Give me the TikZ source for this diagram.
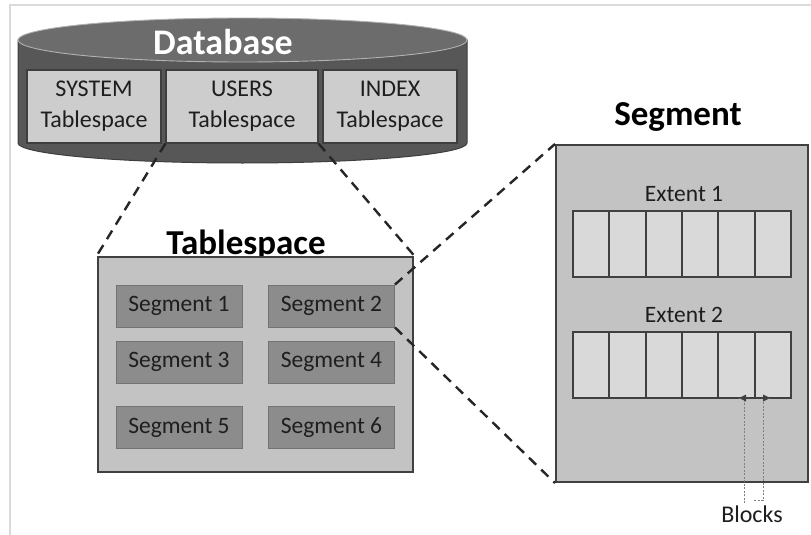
\documentclass[tikz,border=0pt]{standalone}
\usepackage{fontspec}
\setmainfont{Carlito}
\usetikzlibrary{arrows.meta}

\definecolor{dbbody}{HTML}{575757}
\definecolor{dbtop}{HTML}{6C6C6C}
\definecolor{dbedge}{HTML}{3E3E3E}
\definecolor{boxlight}{HTML}{CDCDCD}
\definecolor{panelgray}{HTML}{C3C3C3}
\definecolor{seggray}{HTML}{8C8C8C}
\definecolor{cellgray}{HTML}{D9D9D9}
\definecolor{edgedark}{HTML}{404040}
\definecolor{textdark}{HTML}{1E1E1E}
\definecolor{framegray}{HTML}{DADADA}

\begin{document}
\begin{tikzpicture}[x=1pt, y=-1pt,
  tsbox/.style={rectangle, fill=boxlight, draw=dbedge, line width=1.2pt,
    minimum height=73pt, inner sep=0pt, align=center, text=textdark,
    font=\fontsize{24}{31}\selectfont},
  panel/.style={rectangle, fill=panelgray, draw=edgedark, line width=2.5pt, inner sep=0pt},
  segbox/.style={rectangle, fill=seggray, draw=black!55, line width=0.8pt,
    minimum width=126pt, minimum height=42pt, inner sep=0pt, text=textdark,
    font=\fontsize{23.5}{28}\selectfont},
  cell/.style={rectangle, fill=cellgray, draw=edgedark, line width=2pt,
    minimum width=36.33pt, minimum height=66pt, inner sep=0pt},
  heading/.style={font=\bfseries\fontsize{35}{40}\selectfont, anchor=base, text=black},
  label/.style={font=\fontsize{23.5}{28}\selectfont, anchor=base, text=textdark},
  zoomline/.style={dash pattern=on 10pt off 7pt, line width=2.4pt, draw=black!85},
  blockline/.style={dash pattern=on 2pt off 1.5pt, line width=0.9pt, draw=black!50}
]
\useasboundingbox (0,0) rectangle (811,535);
\fill[white] (0,0) rectangle (811,535);

% page frame
\draw[framegray, line width=2pt] (10,535) -- (10,5) -- (811,5);

% database cylinder
\filldraw[fill=dbbody, draw=dbedge, line width=1pt]
  (18,40) -- (18,143) arc[start angle=180, end angle=0, x radius=224.5, y radius=20]
  -- (467,40) -- cycle;
\filldraw[fill=dbtop, draw=black!30, line width=0.9pt]
  (242.5,40) ellipse[x radius=224.5, y radius=22];
\node[heading, text=white, font=\bfseries\fontsize{36}{42}\selectfont] (dbtitle) at (223,55) {Database};

\node[tsbox, minimum width=134pt] (system) at (94,106.5) {SYSTEM\\Tablespace};
\node[tsbox, minimum width=152pt] (users)  at (242,106.5) {USERS\\Tablespace};
\node[tsbox, minimum width=134pt] (index)  at (390,106.5) {INDEX\\Tablespace};

% tablespace panel
\node[heading] (tstitle) at (246,254) {Tablespace};
\node[panel, minimum width=315pt, minimum height=215pt] (tsp) at (255.5,364.5) {};
\node[segbox] (seg1) at (179,306) {Segment 1};
\node[segbox] (seg2) at (331.5,306) {Segment 2};
\node[segbox] (seg3) at (179,362) {Segment 3};
\node[segbox] (seg4) at (331.5,362) {Segment 4};
\node[segbox] (seg5) at (179,427.5) {Segment 5};
\node[segbox] (seg6) at (331.5,427.5) {Segment 6};

% segment panel
\node[heading] (segtitle) at (678,125) {Segment};
\node[panel, line width=2pt, minimum width=252pt, minimum height=337pt] (segp) at (682,313.5) {};
\node[label] (ext1) at (684,201) {Extent 1};
\node[label] (ext2) at (684,322) {Extent 2};
\foreach \i in {1,...,6} {
  \node[cell] (a\i) at ({573+36.33*(\i-0.5)},244) {};
  \node[cell] (b\i) at ({573+36.33*(\i-0.5)},365) {};
}

% blocks callout
\node[label, font=\fontsize{24}{28}\selectfont] (blocks) at (752,522) {Blocks};
\coordinate (bl0) at (744,503);
\coordinate (bl1) at (739,398);
\coordinate (br0) at (754,500);
\coordinate (br1) at (770,398);
\draw[blockline] (bl0) |- (bl1);
\draw[blockline] (br0) -| (763,398) -- (br1);
\fill[edgedark] (bl1) -- ++(7,-3.5) -- ++(0,7) -- cycle;
\fill[edgedark] (br1) -- ++(-7,-3.5) -- ++(0,7) -- cycle;

% zoom-in connectors
\draw[zoomline] (users.south west) -- (tsp.north west);
\draw[zoomline] (users.south east) -- (tsp.north east);
\draw[zoomline] (seg2.north east) -- (segp.north west);
\draw[zoomline] (seg2.south east) -- (segp.south west);
\end{tikzpicture}
\end{document}
